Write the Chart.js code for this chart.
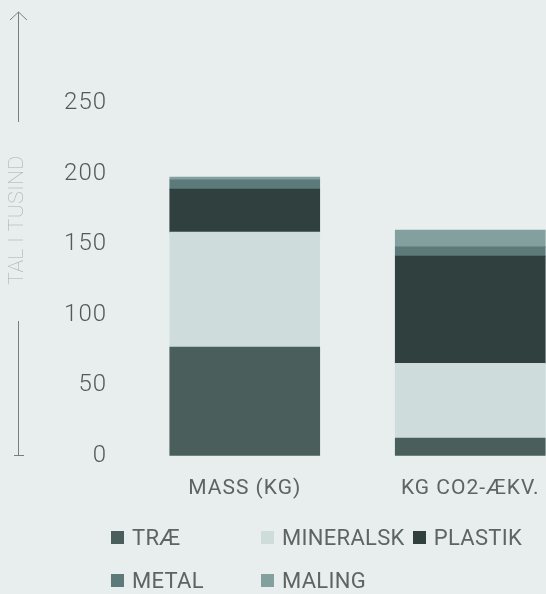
<!DOCTYPE html>
<html>
<head>
<meta charset="utf-8">
<script src="https://cdn.jsdelivr.net/npm/chart.js@4/dist/chart.umd.min.js"></script>
<style>
  html, body {
    margin: 0;
    padding: 0;
    width: 546px;
    height: 594px;
    overflow: hidden;
    background: #e8eeee;
    font-family: "Roboto", sans-serif;
  }
  #wrap {
    position: absolute;
    left: 0;
    top: 0;
    width: 583px;
    height: 524px;
  }
  #legend {
    position: absolute;
    left: 111px;
    top: 516px;
    width: 455px;
    display: flex;
    flex-wrap: wrap;
  }
  .item {
    min-width: 142px;
    margin-right: 8px;
    height: 43px;
    display: flex;
    align-items: center;
    font-size: 22px;
    font-weight: 400;
    letter-spacing: 0.3px;
    color: #5e6463;
    white-space: nowrap;
  }
  .box {
    width: 13px;
    height: 13px;
    margin-right: 8px;
    flex: none;
  }
</style>
</head>
<body>
<div id="wrap"><canvas id="chart" width="583" height="524"></canvas></div>
<div id="legend"></div>

<script>
// categories and series (thousands)
const categories = ["MASS (KG)", "KG CO2-ÆKV."];
const seriesNames = ["TRÆ", "MINERALSK", "PLASTIK", "METAL", "MALING"];
const traeValues = [77, 12.5];
const mineralskValues = [81.5, 53];
const plastikValues = [30.5, 76];
const metalValues = [6.5, 6.5];
const malingValues = [2, 12];
const yTicks = [0, 50, 100, 150, 200, 250];
const axisTitle = "TAL I TUSIND";

const colors = ["#4a5e5b", "#cfdcdc", "#2f403f", "#5b7a79", "#839f9e"];
const allValues = [traeValues, mineralskValues, plastikValues, metalValues, malingValues];

// a little extra letter spacing for all canvas text
const spacing = {
  id: 'spacing',
  beforeDraw(chart) {
    chart.ctx.letterSpacing = "1px";
  }
};

// draws the rotated axis title with its arrow line
const axisArrow = {
  id: 'axisArrow',
  afterDraw(chart) {
    const ctx = chart.ctx;
    const x = 18.5;
    ctx.save();
    ctx.strokeStyle = "#7a7f7e";
    ctx.lineWidth = 1;
    ctx.beginPath();
    ctx.moveTo(x, 12);
    ctx.lineTo(x, 122);
    ctx.moveTo(10, 20);
    ctx.lineTo(x, 12);
    ctx.lineTo(27, 20);
    ctx.moveTo(x, 321);
    ctx.lineTo(x, 455);
    ctx.moveTo(14, 455.5);
    ctx.lineTo(24, 455.5);
    ctx.stroke();

    ctx.translate(18, 220);
    ctx.rotate(-Math.PI / 2);
    ctx.fillStyle = "#a9adac";
    ctx.font = "100 21px Roboto";
    ctx.letterSpacing = "0.5px";
    ctx.textAlign = "center";
    ctx.textBaseline = "middle";
    ctx.fillText(axisTitle, 0, 0);
    ctx.restore();
  }
};

const chart = new Chart(document.getElementById("chart"), {
  type: "bar",
  data: {
    labels: categories,
    datasets: seriesNames.map((name, i) => ({
      label: name,
      data: allValues[i],
      backgroundColor: colors[i],
      borderWidth: 0,
      barThickness: 150
    }))
  },
  options: {
    responsive: false,
    animation: false,
    layout: { padding: { top: 103, bottom: 3, left: 0, right: 0 } },
    plugins: {
      legend: { display: false },
      tooltip: { enabled: false }
    },
    scales: {
      x: {
        stacked: true,
        grid: { display: false, drawTicks: false },
        border: { display: false },
        ticks: {
          padding: 20,
          color: "#5e6463",
          font: { family: "Roboto", size: 21, weight: 400 }
        }
      },
      y: {
        stacked: true,
        min: 0,
        max: 250,
        afterFit: scale => { scale.width = 132; },
        afterBuildTicks: scale => { scale.ticks = yTicks.map(v => ({ value: v })); },
        grid: { display: false, drawTicks: false },
        border: { display: false },
        ticks: {
          padding: 25,
          color: "#555a59",
          font: { family: "Roboto", size: 24, weight: 300 }
        }
      }
    }
  },
  plugins: [spacing, axisArrow]
});

const legend = document.getElementById("legend");
legend.innerHTML = chart.data.datasets.map(ds => `
  <div class="item"><span class="box" style="background:${ds.backgroundColor}"></span>${ds.label}</div>
`).join('');
</script>
</body>
</html>
